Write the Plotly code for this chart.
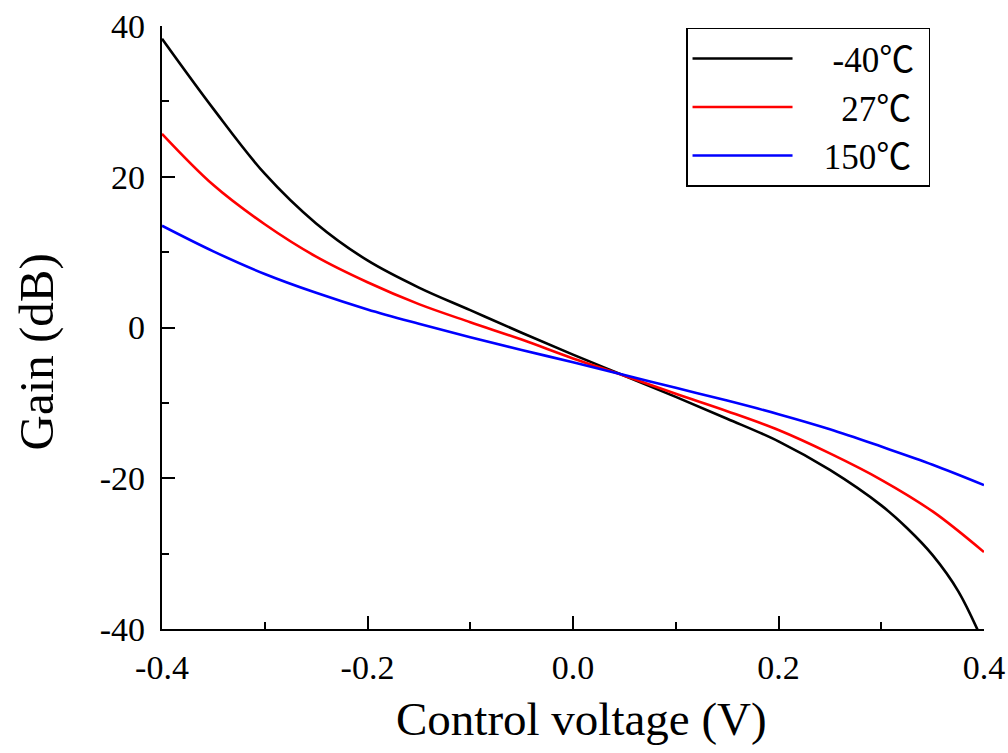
import plotly.graph_objects as go

voltage = [-0.40, -0.35, -0.30, -0.25, -0.20, -0.15, -0.10, -0.05, 0.00,
           0.05, 0.10, 0.15, 0.20, 0.25, 0.30, 0.35, 0.40]
gain_27 = [25.7, 18.9, 13.7, 9.4, 6.0, 3.1, 0.7, -1.6, -4.1,
           -6.4, -8.8, -11.1, -13.6, -16.7, -20.2, -24.4, -29.8]
gain_150 = [13.5, 10.1, 7.1, 4.6, 2.4, 0.5, -1.3, -3.0, -4.6,
            -6.3, -8.0, -9.7, -11.5, -13.5, -15.8, -18.2, -20.9]

# -40 degC curve read with extra samples near the steep right end
voltage_m40 = [-0.40, -0.35, -0.30, -0.25, -0.20, -0.15, -0.10, -0.05, 0.00,
               0.05, 0.10, 0.15, 0.20, 0.25, 0.30, 0.325, 0.35, 0.375, 0.40]
gain_m40 = [38.3, 29.0, 20.4, 13.8, 8.9, 5.3, 2.3, -0.7, -3.6,
            -6.4, -9.2, -12.1, -15.1, -18.9, -23.6, -26.6, -30.2, -35.0, -42.0]

x_tickvals = [-0.4, -0.2, 0.0, 0.2, 0.4]
x_ticktext = ["-0.4", "-0.2", "0.0", "0.2", "0.4"]
y_tickvals = [-40, -20, 0, 20, 40]
y_ticktext = ["-40", "-20", "0", "20", "40"]

NB = "\u00a0"
series = [
    (NB * 4 + "-40\u2103" + NB, voltage_m40, gain_m40, "#000000"),
    (NB * 5 + "27\u2103" + NB, voltage, gain_27, "#ff0000"),
    (NB * 3 + "150\u2103" + NB, voltage, gain_150, "#0000ff"),
]

fig = go.Figure()
for i, (name, xs, vals, color) in enumerate(series):
    fig.add_trace(go.Scatter(x=xs, y=vals, mode="lines", name=name,
                             legendgroup=str(i),
                             line=dict(color=color, width=2.6, shape="spline", smoothing=1.0)))

font_family = "Liberation Serif, Noto Sans CJK SC, serif"
fig.update_layout(
    width=1008, height=753,
    margin=dict(l=162, r=24, t=26, b=124),
    paper_bgcolor="white", plot_bgcolor="white",
    font=dict(family=font_family, color="black"),
    showlegend=True,
    legend=dict(x=0.6375, y=0.997, xanchor="left", yanchor="top",
                bordercolor="black", borderwidth=1.5, bgcolor="white",
                font=dict(size=35, family=font_family), itemwidth=100,
                tracegroupgap=6, traceorder="normal"),
    annotations=[
        dict(text="Control voltage (V)", xref="paper", yref="paper", x=0.5, y=0,
             xanchor="center", yanchor="middle", xshift=8, yshift=-90,
             showarrow=False, font=dict(size=47, family=font_family, color="black")),
        dict(text="Gain (dB)", xref="paper", yref="paper", x=0, y=0.5,
             xanchor="center", yanchor="middle", xshift=-126, yshift=-25, textangle=-90,
             showarrow=False, font=dict(size=49, family=font_family, color="black")),
    ],
)
fig.update_xaxes(
    range=[-0.4, 0.4], tickmode="array", tickvals=x_tickvals, ticktext=x_ticktext,
    showline=True, linecolor="black", linewidth=2.2, mirror=False,
    ticks="inside", ticklen=13, tickwidth=2, tickcolor="black",
    minor=dict(ticks="inside", ticklen=7, tickwidth=2, dtick=0.1, tick0=-0.4, tickcolor="black"),
    showgrid=False, zeroline=False, automargin=False,
    tickfont=dict(size=34, family=font_family),
    ticklabelstandoff=7,
)
fig.update_yaxes(
    range=[-40, 40], tickmode="array", tickvals=y_tickvals, ticktext=y_ticktext,
    showline=True, linecolor="black", linewidth=2.2, mirror=False,
    ticks="inside", ticklen=13, tickwidth=2, tickcolor="black",
    minor=dict(ticks="inside", ticklen=7, tickwidth=2, dtick=10, tick0=-40, tickcolor="black"),
    showgrid=False, zeroline=False, automargin=False,
    tickfont=dict(size=34, family=font_family),
    ticklabelstandoff=8,
)

fig.write_html("out.html")
